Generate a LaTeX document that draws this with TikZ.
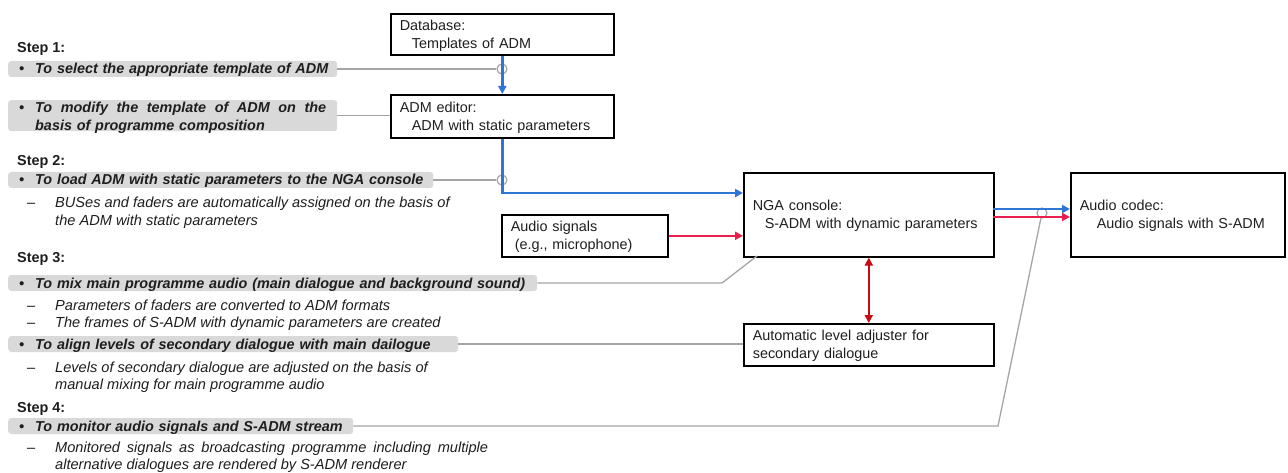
\documentclass[tikz,border=0pt]{standalone}
\usepackage{fontspec}
\setmainfont{Liberation Sans}
\usetikzlibrary{arrows.meta}
\definecolor{blueA}{RGB}{46,117,214}
\definecolor{redA}{RGB}{232,30,76}
\definecolor{redB}{RGB}{200,10,20}
\definecolor{grayL}{RGB}{165,165,165}
\definecolor{barF}{RGB}{217,217,217}
\definecolor{txt}{RGB}{30,30,30}
\newcommand{\bul}{\makebox[27pt][l]{\hspace*{11pt}\textbullet}}
\newcommand{\sdash}{\makebox[28pt][l]{--}}
\hyphenpenalty=10000
\exhyphenpenalty=10000
\hbadness=10000
\begin{document}
\begin{tikzpicture}[x=1pt,y=-1pt,
  font=\fontsize{14.4}{18}\selectfont, text=txt,
  box/.style={draw=black, line width=1.6pt, anchor=north west, align=left,
    inner xsep=9pt, inner ysep=0pt, text height=11pt, text depth=19pt},
  bar/.style={fill=barF, rounded corners=3pt, anchor=west, align=left,
    inner xsep=0pt, inner ysep=0pt, text height=13pt, text depth=3pt,
    font=\fontsize{14.4}{18}\selectfont\bfseries\itshape},
  stephead/.style={anchor=base west, inner sep=0pt, font=\fontsize{14.4}{18}\selectfont\bfseries},
  subitem/.style={anchor=base west, inner sep=0pt, align=left, font=\fontsize{14.6}{17.5}\selectfont\itshape},
  circ/.style={circle, draw=grayL, line width=1.2pt, minimum size=10pt, inner sep=0pt},
  gline/.style={draw=grayL, line width=1.3pt},
  barrow/.style={draw=blueA, line width=2.4pt, -{Triangle[length=8pt,width=8pt]}},
  rarrow/.style={draw=redA, line width=2.4pt, -{Triangle[length=8pt,width=8pt]}},
  rdarrow/.style={draw=redB, line width=2.4pt, {Triangle[length=8pt,width=8pt]}-{Triangle[length=8pt,width=8pt]}}
]
\useasboundingbox (0,0) rectangle (1288,473);

% boxes
\node[box, text width=205pt, minimum height=41pt] (db) at (390,13) {Database:\\\hspace*{12pt}Templates of ADM};
\node[box, text width=205pt, minimum height=43pt] (ed) at (390,94) {ADM editor:\\\hspace*{12pt}ADM with static parameters};
\node[box, text width=232pt, minimum height=84pt] (nga) at (743,172) {NGA console:\\\hspace*{12pt}S-ADM with dynamic parameters};
\node[box, text width=196pt, minimum height=84pt] (codec) at (1070,172) {Audio codec:\\\hspace*{17pt}Audio signals with S-ADM};
\node[box, text width=148pt, minimum height=42pt] (aud) at (501,214) {Audio signals\\\hspace*{4pt}(e.g., microphone)};
\node[box, text width=232pt, minimum height=42pt] (adj) at (743,323) {Automatic level adjuster for\\secondary dialogue};

% left text
\node[stephead] (s1) at (17,53) {Step 1:};
\node[bar, text width=329pt] (b1) at (8,69) {\bul To select the appropriate template of ADM};
\node[bar, anchor=north west, text width=329pt, text height=12pt, text depth=19pt] (b2) at (8,100)
  {\bul\hbox to 291pt{To\hfill modify\hfill the\hfill template\hfill of\hfill ADM\hfill on\hfill the}\\\hspace*{27pt}basis of programme composition};
\node[stephead] (s2) at (17,166) {Step 2:};
\node[bar, text width=425pt] (b3) at (8,180) {\bul To load ADM with static parameters to the NGA console};
\node[subitem] (t3) at (27,208) {\sdash\parbox[t]{440pt}{BUSes and faders are automatically assigned on the basis of\\the ADM with static parameters}};
\node[stephead] (s3) at (17,262) {Step 3:};
\node[bar, text width=529pt] (b4) at (8,283) {\bul To mix main programme audio (main dialogue and background sound)};
\node[subitem] (t4) at (27,310) {\sdash Parameters of faders are converted to ADM formats};
\node[subitem] (t5) at (27,327) {\sdash The frames of S-ADM with dynamic parameters are created};
\node[bar, text width=450pt] (b5) at (8,344) {\bul\hbox to 394pt{To align levels of secondary dialogue with main dailogue}};
\node[subitem] (t6) at (27,372) {\sdash\parbox[t]{440pt}{Levels of secondary dialogue are adjusted on the basis of\\manual mixing for main programme audio}};
\node[stephead] (s4) at (17,412) {Step 4:};
\node[bar, text width=345pt] (b6) at (8,426) {\bul To monitor audio signals and S-ADM stream};
\node[subitem] (t7) at (27,452) {\sdash\parbox[t]{440pt}{\leavevmode\hbox to 433pt{Monitored signals as broadcasting programme including multiple}\\alternative dialogues are rendered by S-ADM renderer}};

% junction circles
\node[circ] (c1) at (502,69) {};
\node[circ] (c2) at (502,180) {};
\node[circ] (c3) at (1042,213) {};

% connectors
\coordinate (k1) at (743,193);
\coordinate (n1) at (993,209);
\coordinate (n2) at (993,217);
\coordinate (m1) at (722,283);
\coordinate (m2) at (757,256);
\coordinate (q1) at (998,426);

\draw[barrow] (db.south) -- (ed.north);
\draw[barrow] (ed.south) |- (k1);
\draw[rarrow] (aud.east) -- (aud.east -| nga.west);
\draw[barrow] (n1) -- (n1 -| codec.west);
\draw[rarrow] (n2) -- (n2 -| codec.west);
\draw[rdarrow] (nga.south) -- (adj.north);

\draw[gline] (b1.east) -- (c1.west);
\draw[gline] (b2.east) -- (b2.east -| ed.west);
\draw[gline] (b3.east) -- (c2.west);
\draw[gline] (b4.east) -- (m1) -- (m2);
\draw[gline] (b5.east) -- (b5.east -| adj.west);
\draw[gline] (c3) -- (q1) -- (b6.east);
\end{tikzpicture}
\end{document}
